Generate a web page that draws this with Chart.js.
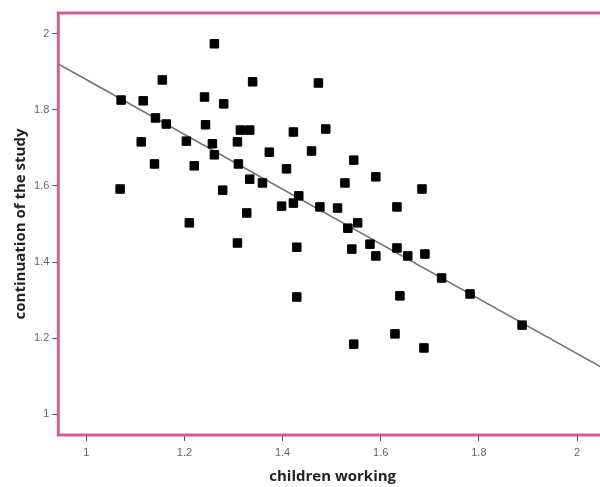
<!DOCTYPE html>
<html>
<head>
<meta charset="utf-8">
<script src="https://cdn.jsdelivr.net/npm/chart.js@4.4.0/dist/chart.umd.min.js"></script>
<style>
  html, body { margin: 0; padding: 0; background: #fff; overflow: hidden; }
  #wrap { width: 600px; height: 487px; overflow: hidden; }
  #box { width: 614px; height: 487px; }
</style>
</head>
<body>
<div id="wrap"><div id="box"><canvas id="scatterChart"></canvas></div></div>
<script>
// children working (x) vs continuation of the study (y)
const childrenWorking = [
  1.071, 1.116, 1.155, 1.261, 1.241, 1.280, 1.339, 1.473, 1.141, 1.163,
  1.243, 1.314, 1.333, 1.422, 1.488, 1.112, 1.204, 1.257, 1.308, 1.373,
  1.459, 1.545, 1.139, 1.220, 1.261, 1.310, 1.408, 1.333, 1.359, 1.527,
  1.590, 1.684, 1.069, 1.278, 1.433, 1.422, 1.398, 1.476, 1.512, 1.633,
  1.327, 1.210, 1.553, 1.533, 1.308, 1.429, 1.578, 1.541, 1.633, 1.590,
  1.655, 1.690, 1.724, 1.782, 1.888, 1.429, 1.639, 1.629, 1.545, 1.688
];
const continuation = [
  1.826, 1.824, 1.879, 1.974, 1.834, 1.816, 1.874, 1.871, 1.779, 1.763,
  1.761, 1.747, 1.747, 1.742, 1.750, 1.716, 1.718, 1.711, 1.716, 1.689,
  1.692, 1.668, 1.658, 1.653, 1.682, 1.658, 1.645, 1.618, 1.608, 1.608,
  1.624, 1.592, 1.592, 1.589, 1.574, 1.555, 1.547, 1.545, 1.542, 1.545,
  1.529, 1.503, 1.503, 1.489, 1.450, 1.439, 1.447, 1.434, 1.437, 1.416,
  1.416, 1.421, 1.358, 1.316, 1.234, 1.308, 1.311, 1.211, 1.184, 1.174
];

// fit line end points
const fitX = [0.943, 2.061];
const fitY = [1.921, 1.115];

const xTicks = [1, 1.2, 1.4, 1.6, 1.8, 2];
const yTicks = [1, 1.2, 1.4, 1.6, 1.8, 2];

const pink = '#d8579b';

// frame around the plot area
const frame = {
  id: 'frame',
  afterDraw(chart) {
    const a = chart.chartArea;
    const ctx = chart.ctx;
    ctx.save();
    ctx.strokeStyle = pink;
    ctx.lineWidth = 3;
    ctx.strokeRect(a.left, a.top, a.right - a.left, a.bottom - a.top);
    ctx.restore();
  }
};

const fmt = v => String(+Number(v).toFixed(1));
const titleFont = { family: 'Open Sans', size: 15, weight: 'bold', lineHeight: 1 };
const tickFont = { family: 'Liberation Sans', size: 11 };

new Chart(document.getElementById('scatterChart'), {
  type: 'scatter',
  data: {
    datasets: [{
      data: childrenWorking.map((x, i) => ({ x: x, y: continuation[i] })),
      pointStyle: 'rect',
      radius: 6,
      backgroundColor: '#000',
      borderColor: '#000',
      borderWidth: 1
    }, {
      type: 'line',
      data: fitX.map((x, i) => ({ x: x, y: fitY[i] })),
      borderColor: '#707070',
      borderWidth: 1.5,
      pointRadius: 0,
      fill: false
    }]
  },
  options: {
    responsive: true,
    maintainAspectRatio: false,
    animation: false,
    layout: { padding: { left: 13, top: 13, right: 2, bottom: 0 } },
    plugins: {
      legend: { display: false },
      tooltip: { enabled: false }
    },
    scales: {
      x: {
        type: 'linear',
        min: 0.943,
        max: 2.061,
        afterBuildTicks: s => { s.ticks = xTicks.map(v => ({ value: v })); },
        afterFit: s => { s.height = 52; },
        ticks: { callback: fmt, color: '#666', font: tickFont, padding: 5, maxRotation: 0 },
        grid: { drawOnChartArea: false, tickLength: 6, color: '#555' },
        border: { display: false },
        title: {
          display: true,
          text: 'children working',
          color: '#222',
          font: titleFont,
          padding: { top: 8, bottom: 3 }
        }
      },
      y: {
        type: 'linear',
        min: 0.945,
        max: 2.055,
        afterBuildTicks: s => { s.ticks = yTicks.map(v => ({ value: v })); },
        ticks: { callback: fmt, color: '#666', font: tickFont, padding: 3 },
        grid: { drawOnChartArea: false, tickLength: 6, color: '#555' },
        border: { display: false },
        title: {
          display: true,
          text: 'continuation of the study',
          color: '#222',
          font: titleFont,
          padding: { top: 0, bottom: 3 }
        }
      }
    }
  },
  plugins: [frame]
});
</script>
</body>
</html>
